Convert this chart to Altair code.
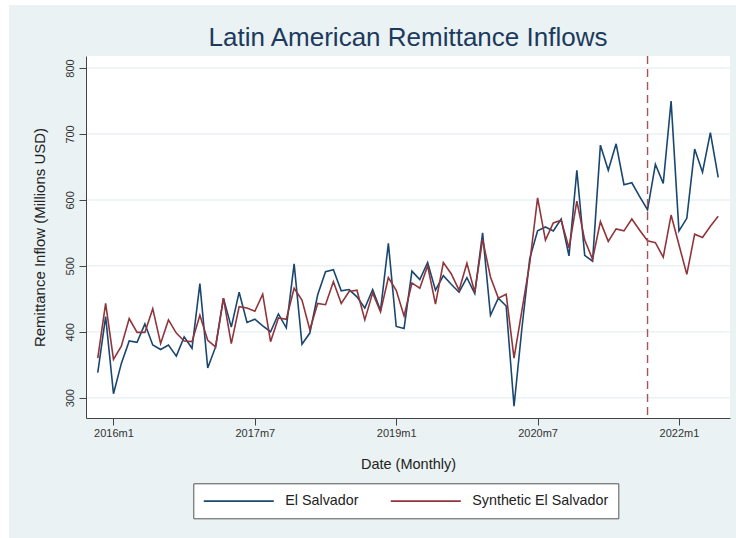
import altair as alt

# ---- data ----
start_year, start_month = 2015, 11  # first observation: 2015m11

el_salvador = [338, 423, 306, 352, 386, 384, 412, 380, 373, 380,
               363, 392, 375, 473, 345, 377, 451, 407, 460, 414,
               419, 409, 400, 427, 406, 503, 381, 398, 456, 491,
               494, 462, 464, 453, 436, 464, 432, 534, 408, 405,
               492, 479, 505, 463, 485, 472, 460, 482, 458, 550,
               425, 451, 439, 287, 405, 511, 553, 559, 553, 571,
               515, 645, 516, 507, 683, 645, 685, 623, 626, 605,
               585, 654, 625, 750, 553, 572, 677, 642, 702, 634]

synthetic = [360, 443, 358, 378, 420, 399, 399, 435, 382, 418,
             398, 386, 385, 425, 387, 377, 451, 382, 438, 436,
             431, 457, 385, 421, 419, 466, 448, 403, 443, 441,
             476, 443, 461, 463, 418, 459, 430, 482, 463, 424,
             474, 466, 500, 442, 505, 488, 463, 504, 460, 540,
             483, 451, 457, 360, 432, 504, 603, 539, 565, 569,
             527, 598, 539, 510, 567, 537, 556, 553, 571, 554,
             538, 535, 513, 577, 532, 487, 548, 543, 560, 575]

series_names = ["El Salvador", "Synthetic El Salvador"]
series_colors = ["#1a476f", "#90353b"]
y_ticks = [300, 400, 500, 600, 700, 800]
x_tick_labels = ["2016m1", "2017m7", "2019m1", "2020m7", "2022m1"]
treatment_month = "2021m9"

BG = "#EAF2F3"
FONT = "Liberation Sans"


def month_index(label):
    y, m = label.split("m")
    return (int(y) - start_year) * 12 + int(m) - start_month


rows = []
for name, series in zip(series_names, [el_salvador, synthetic]):
    for i, v in enumerate(series):
        rows.append({"t": i, "value": v, "series": name})

W, H = 644, 362
x_scale = alt.Scale(domain=[-1.5, 80.5], nice=False, zero=False)
y_scale = alt.Scale(domain=[269.2, 818.2], nice=False, zero=False)

label_expr = (f"({start_year} + floor((datum.value + {start_month - 1}) / 12)) + 'm' + "
              f"((datum.value + {start_month - 1}) % 12 + 1)")

x_axis = alt.Axis(values=[month_index(l) for l in x_tick_labels], labelExpr=label_expr,
                  title="Date (Monthly)", grid=False, tickSize=7, labelPadding=2,
                  labelFontSize=11, labelFont=FONT, labelColor="#333",
                  titleFont=FONT, titleFontSize=14.5, titleFontWeight="normal",
                  titleColor="#222", titleX=W / 2, titleY=50.6,
                  titleBaseline="alphabetic", domainColor="#444", tickColor="#444",
                  labelAngle=0, zindex=1)

y_axis = alt.Axis(values=y_ticks, title="Remittance Inflow (Millions USD)", grid=False,
                  tickSize=7, labelPadding=6, labelAngle=270, labelAlign="center",
                  labelBaseline="alphabetic", labelFontSize=11, labelFont=FONT,
                  labelColor="#333", titleFont=FONT, titleFontSize=15,
                  titleFontWeight="normal", titleColor="#222", titleAngle=270,
                  titleX=-41.5, titleY=H / 2, titleBaseline="alphabetic",
                  titleAlign="center", domainColor="#444", tickColor="#444", zindex=1)

one = alt.Data(values=[{"a": 1}])

bg = alt.Chart(one).mark_rect(color=BG).encode(
    x=alt.value(-77), x2=alt.value(650), y=alt.value(-51), y2=alt.value(482))
plot_bg = alt.Chart(one).mark_rect(color="white").encode(
    x=alt.value(0), x2=alt.value(W), y=alt.value(0), y2=alt.value(H))

grid = alt.Chart(alt.Data(values=[{"value": v} for v in y_ticks])).mark_rule(
    color=BG, strokeWidth=1.5).encode(y=alt.Y("value:Q", scale=y_scale, axis=y_axis))

lines = alt.Chart(alt.Data(values=rows)).mark_line(strokeWidth=1.6).encode(
    x=alt.X("t:Q", scale=x_scale, axis=x_axis),
    y=alt.Y("value:Q", scale=y_scale, axis=y_axis),
    color=alt.Color("series:N",
                    scale=alt.Scale(domain=series_names, range=series_colors),
                    legend=alt.Legend(title=None, orient="none", legendX=107.3,
                                      legendY=427.3, direction="horizontal",
                                      fillColor="white", strokeColor="#555",
                                      padding=9.5, symbolType="M-1,0H9",
                                      symbolSize=196, symbolStrokeWidth=1.6,
                                      labelFontSize=14.3, labelFont=FONT,
                                      labelColor="#222", labelOffset=66.5,
                                      columnPadding=28, zindex=1)),
    order="t:Q",
)

vline = alt.Chart(alt.Data(values=[{"t": month_index(treatment_month)}])).mark_rule(
    color="#a0565c", strokeDash=[8, 5], strokeWidth=1.4).encode(
    x=alt.X("t:Q", scale=x_scale, axis=x_axis))

chart = alt.layer(bg, plot_bg, grid, lines, vline).properties(
    width=W, height=H,
    autosize=alt.AutoSizeParams(type="none"),
    padding={"left": 86, "top": 56, "right": 6, "bottom": 120},
    background="white",
    title=alt.TitleParams("Latin American Remittance Inflows", fontSize=26, font=FONT,
                          fontWeight="normal", color="#1c3a5e", anchor="middle",
                          frame="group", baseline="alphabetic", offset=10, dy=77,
                          zindex=1),
).configure_view(strokeWidth=0)

chart.save("out.html", embed_options={"renderer": "svg", "actions": False})
